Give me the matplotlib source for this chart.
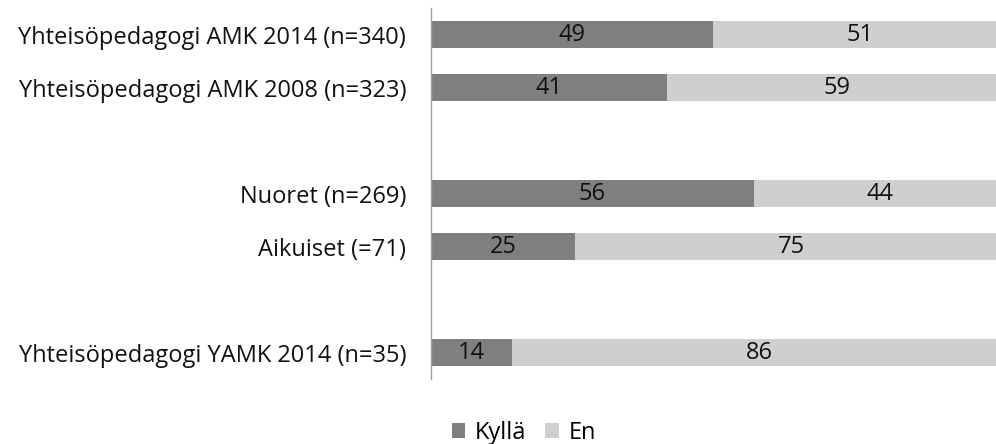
import numpy as np
import matplotlib.pyplot as plt

plt.rcParams['font.family'] = ['Open Sans', 'DejaVu Sans']

# slots: empty strings are the gaps between groups
categories = ['Yhteisöpedagogi AMK 2014 (n=340)', 'Yhteisöpedagogi AMK 2008 (n=323)', '',
              'Nuoret (n=269)', 'Aikuiset (=71)', '', 'Yhteisöpedagogi YAMK 2014 (n=35)']
kylla = [49, 41, None, 56, 25, None, 14]
en = [51, 59, None, 44, 75, None, 86]
series_names = ['Kyllä', 'En']
colors = ['#7f7f7f', '#d0cece']

fig = plt.figure(figsize=(9.96, 4.44), dpi=100)
ax = fig.add_axes([431 / 996, 1 - 379 / 444, 576 / 996, 371 / 444])

y = np.arange(len(categories))
idx = [i for i, v in enumerate(kylla) if v is not None]
k = np.array([kylla[i] for i in idx])
e = np.array([en[i] for i in idx])
yy = y[idx]

fs = 17
b1 = ax.barh(yy, k, height=0.51, color=colors[0], label=series_names[0])
b2 = ax.barh(yy, e, left=k, height=0.51, color=colors[1], label=series_names[1])
for yi, a, b in zip(yy, k, e):
    ax.text(a / 2, yi, str(a), ha='center', va='center', fontsize=fs, color='#111111')
    ax.text(a + b / 2, yi, str(b), ha='center', va='center', fontsize=fs, color='#111111')

ax.set_xlim(0, 100)
ax.set_ylim(len(categories) - 0.5, -0.5)
ax.set_yticks(y)
ax.set_yticklabels(categories, fontsize=fs, color='#111111')
ax.tick_params(axis='y', length=0, pad=18)
ax.set_xticks([])
for s in ['top', 'right', 'bottom']:
    ax.spines[s].set_visible(False)
ax.spines['left'].set_color('#a0a0a0')
ax.spines['left'].set_linewidth(1)

fig.legend(handles=[b1, b2], loc='center', bbox_to_anchor=(524 / 996, 1 - 433 / 444),
           ncol=2, frameon=False, fontsize=fs, handlelength=0.57, handleheight=0.57,
           handletextpad=0.42, columnspacing=0.8, borderpad=0)

fig.savefig('out.png', dpi=100)
